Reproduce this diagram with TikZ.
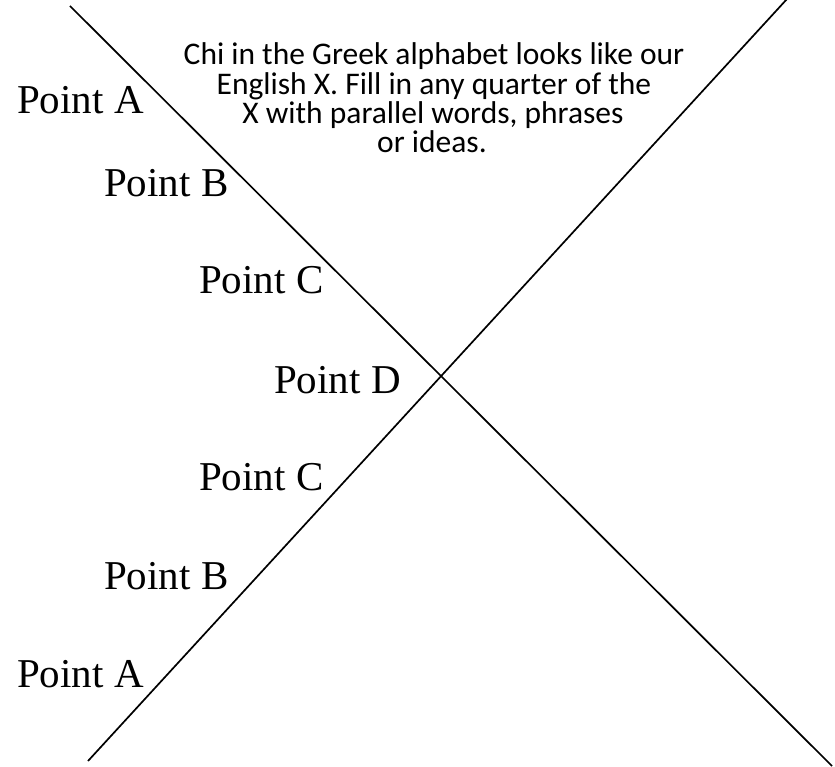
\documentclass[tikz,border=0pt]{standalone}
\usepackage{fontspec}
\setmainfont{Liberation Serif}
\newfontfamily\calib{Carlito}
\begin{document}
\begin{tikzpicture}[x=1pt,y=-1pt,
  xline/.style={line width=1.7pt, black},
  pointlbl/.style={anchor=base west, inner sep=0pt, font=\fontsize{41}{48}\selectfont},
  infolbl/.style={anchor=base, inner sep=0pt, font=\calib\fontsize{31.5}{38}\selectfont}]
\useasboundingbox (0,0) rectangle (835,767);
\coordinate (l1a) at (70,6);
\coordinate (l1b) at (832,766);
\coordinate (l2a) at (88,761);
\coordinate (l2b) at (787,-1);
\draw[xline] (l1a) -- (l1b);
\draw[xline] (l2a) -- (l2b);
\node[infolbl] (t1) at (434,65) {Chi in the Greek alphabet looks like our};
\node[infolbl] (t2) at (434,95) {English X. Fill in any quarter of the};
\node[infolbl] (t3) at (433,124) {X with parallel words, phrases};
\node[infolbl] (t4) at (432,153) {or ideas.};
\node[pointlbl] (pa1) at (17,114) {Point A};
\node[pointlbl] (pb1) at (104,197) {Point B};
\node[pointlbl] (pc1) at (199,294) {Point C};
\node[pointlbl] (pd) at (274,393) {Point D};
\node[pointlbl] (pc2) at (199,490) {Point C};
\node[pointlbl] (pb2) at (104,589) {Point B};
\node[pointlbl] (pa2) at (17,687) {Point A};
\end{tikzpicture}
\end{document}
